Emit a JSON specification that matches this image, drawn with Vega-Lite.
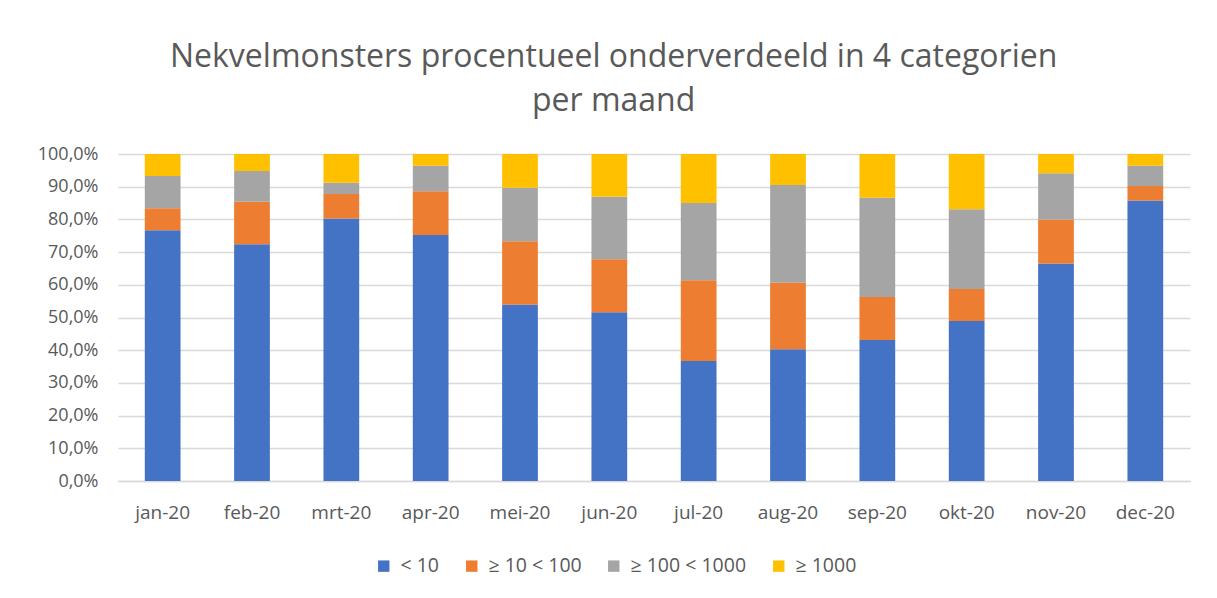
{
  "$schema": "https://vega.github.io/schema/vega-lite/v6.json",
  "width": 1072,
  "height": 327,
  "autosize": {"type": "none"},
  "padding": {"left": 118, "top": 154, "right": 27, "bottom": 117},
  "background": "white",
  "config": {
    "locale": {"number": {"decimal": ",", "thousands": ".", "grouping": [3], "currency": ["€", ""]}},
    "view": {"stroke": null},
    "font": "Open Sans"
  },
  "title": {
    "text": ["Nekvelmonsters procentueel onderverdeeld in 4 categorien", "per maand"],
    "font": "Open Sans",
    "fontSize": 32,
    "fontWeight": "normal",
    "color": "#595959",
    "lineHeight": 44,
    "anchor": "middle",
    "frame": "bounds",
    "offset": 27
  },
  "data": {
    "values": [
      {"maand": "jan-20", "cat": "< 10", "o": 1, "v": 0.767},
      {"maand": "jan-20", "cat": "≥ 10 < 100", "o": 2, "v": 0.067},
      {"maand": "jan-20", "cat": "≥ 100 < 1000", "o": 3, "v": 0.099},
      {"maand": "jan-20", "cat": "≥ 1000", "o": 4, "v": 0.067},
      {"maand": "feb-20", "cat": "< 10", "o": 1, "v": 0.724},
      {"maand": "feb-20", "cat": "≥ 10 < 100", "o": 2, "v": 0.130},
      {"maand": "feb-20", "cat": "≥ 100 < 1000", "o": 3, "v": 0.094},
      {"maand": "feb-20", "cat": "≥ 1000", "o": 4, "v": 0.052},
      {"maand": "mrt-20", "cat": "< 10", "o": 1, "v": 0.803},
      {"maand": "mrt-20", "cat": "≥ 10 < 100", "o": 2, "v": 0.075},
      {"maand": "mrt-20", "cat": "≥ 100 < 1000", "o": 3, "v": 0.034},
      {"maand": "mrt-20", "cat": "≥ 1000", "o": 4, "v": 0.088},
      {"maand": "apr-20", "cat": "< 10", "o": 1, "v": 0.752},
      {"maand": "apr-20", "cat": "≥ 10 < 100", "o": 2, "v": 0.134},
      {"maand": "apr-20", "cat": "≥ 100 < 1000", "o": 3, "v": 0.078},
      {"maand": "apr-20", "cat": "≥ 1000", "o": 4, "v": 0.036},
      {"maand": "mei-20", "cat": "< 10", "o": 1, "v": 0.540},
      {"maand": "mei-20", "cat": "≥ 10 < 100", "o": 2, "v": 0.193},
      {"maand": "mei-20", "cat": "≥ 100 < 1000", "o": 3, "v": 0.164},
      {"maand": "mei-20", "cat": "≥ 1000", "o": 4, "v": 0.103},
      {"maand": "jun-20", "cat": "< 10", "o": 1, "v": 0.516},
      {"maand": "jun-20", "cat": "≥ 10 < 100", "o": 2, "v": 0.162},
      {"maand": "jun-20", "cat": "≥ 100 < 1000", "o": 3, "v": 0.191},
      {"maand": "jun-20", "cat": "≥ 1000", "o": 4, "v": 0.131},
      {"maand": "jul-20", "cat": "< 10", "o": 1, "v": 0.367},
      {"maand": "jul-20", "cat": "≥ 10 < 100", "o": 2, "v": 0.247},
      {"maand": "jul-20", "cat": "≥ 100 < 1000", "o": 3, "v": 0.236},
      {"maand": "jul-20", "cat": "≥ 1000", "o": 4, "v": 0.150},
      {"maand": "aug-20", "cat": "< 10", "o": 1, "v": 0.403},
      {"maand": "aug-20", "cat": "≥ 10 < 100", "o": 2, "v": 0.203},
      {"maand": "aug-20", "cat": "≥ 100 < 1000", "o": 3, "v": 0.299},
      {"maand": "aug-20", "cat": "≥ 1000", "o": 4, "v": 0.095},
      {"maand": "sep-20", "cat": "< 10", "o": 1, "v": 0.431},
      {"maand": "sep-20", "cat": "≥ 10 < 100", "o": 2, "v": 0.132},
      {"maand": "sep-20", "cat": "≥ 100 < 1000", "o": 3, "v": 0.303},
      {"maand": "sep-20", "cat": "≥ 1000", "o": 4, "v": 0.134},
      {"maand": "okt-20", "cat": "< 10", "o": 1, "v": 0.489},
      {"maand": "okt-20", "cat": "≥ 10 < 100", "o": 2, "v": 0.098},
      {"maand": "okt-20", "cat": "≥ 100 < 1000", "o": 3, "v": 0.244},
      {"maand": "okt-20", "cat": "≥ 1000", "o": 4, "v": 0.169},
      {"maand": "nov-20", "cat": "< 10", "o": 1, "v": 0.665},
      {"maand": "nov-20", "cat": "≥ 10 < 100", "o": 2, "v": 0.135},
      {"maand": "nov-20", "cat": "≥ 100 < 1000", "o": 3, "v": 0.141},
      {"maand": "nov-20", "cat": "≥ 1000", "o": 4, "v": 0.059},
      {"maand": "dec-20", "cat": "< 10", "o": 1, "v": 0.858},
      {"maand": "dec-20", "cat": "≥ 10 < 100", "o": 2, "v": 0.044},
      {"maand": "dec-20", "cat": "≥ 100 < 1000", "o": 3, "v": 0.062},
      {"maand": "dec-20", "cat": "≥ 1000", "o": 4, "v": 0.036}
    ]
  },
  "mark": {"type": "bar"},
  "encoding": {
    "x": {
      "field": "maand",
      "type": "nominal",
      "sort": null,
      "scale": {"paddingInner": 0.6, "paddingOuter": 0.3},
      "axis": {
        "title": null,
        "labelAngle": 0,
        "labelFont": "Open Sans",
        "labelFontSize": 19,
        "labelColor": "#595959",
        "labelPadding": 22,
        "ticks": false,
        "domainColor": "#d9d9d9",
        "domainWidth": 1.5
      }
    },
    "y": {
      "field": "v",
      "type": "quantitative",
      "stack": "zero",
      "scale": {"domain": [0, 1], "nice": false},
      "axis": {
        "title": null,
        "format": ".1%",
        "values": [0, 0.1, 0.2, 0.3, 0.4, 0.5, 0.6, 0.7, 0.8, 0.9, 1],
        "labelFont": "Open Sans",
        "labelFontSize": 18,
        "labelColor": "#595959",
        "labelPadding": 20,
        "ticks": false,
        "domain": false,
        "gridColor": "#d9d9d9",
        "gridWidth": 1.5
      }
    },
    "color": {
      "field": "cat",
      "type": "nominal",
      "sort": ["< 10", "≥ 10 < 100", "≥ 100 < 1000", "≥ 1000"],
      "scale": {
        "domain": ["< 10", "≥ 10 < 100", "≥ 100 < 1000", "≥ 1000"],
        "range": ["#4472C4", "#ED7D31", "#A5A5A5", "#FFC000"]
      },
      "legend": {
        "title": null,
        "orient": "none",
        "direction": "horizontal",
        "legendX": 256,
        "legendY": 402,
        "symbolType": "square",
        "symbolSize": 130,
        "symbolStrokeWidth": 0,
        "labelFont": "Open Sans",
        "labelFontSize": 19.5,
        "labelColor": "#595959",
        "columnPadding": 22,
        "labelOffset": 7
      }
    },
    "order": {"field": "o", "type": "quantitative"}
  }
}
